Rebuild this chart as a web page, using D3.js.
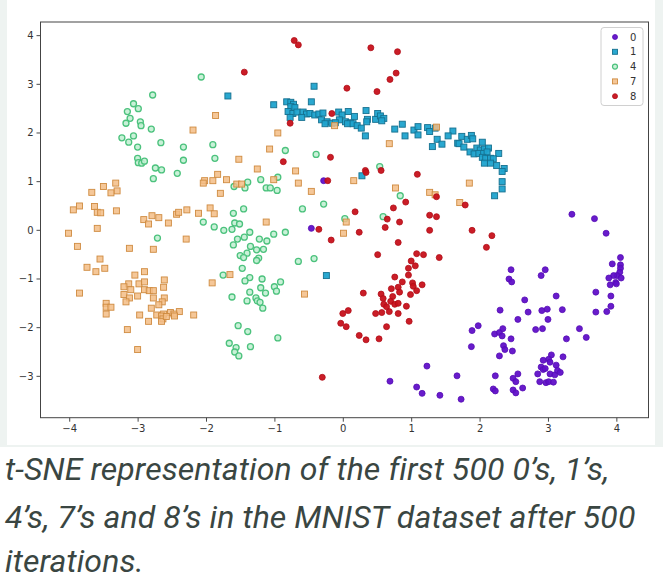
<!DOCTYPE html>
<html>
<head>
<meta charset="utf-8">
<script src="https://cdnjs.cloudflare.com/ajax/libs/d3/7.8.5/d3.min.js"></script>
<style>
  html, body { margin: 0; padding: 0; background: #ffffff; }
  svg { display: block; }
</style>
</head>
<body>
<svg id="chart" width="663" height="582"></svg>
<script>
// ---- data (t-SNE coordinates) ----
const classLabels = ["0", "1", "4", "7", "8"];
const xTicks = [-4, -3, -2, -1, 0, 1, 2, 3, 4];
const yTicks = [-3, -2, -1, 0, 1, 2, 3, 4];
const captionLines = [
  "t-SNE representation of the first 500 0’s, 1’s,",
  "4’s, 7’s and 8’s in the MNIST dataset after 500",
  "iterations."
];

const points0 = [
  [-0.28,1.01],[-0.46,0.03],[1.23,-2.80],[0.69,-3.11],[1.08,-3.23],[1.16,-3.36],[1.42,-3.40],
  [3.35,0.32],[3.68,0.23],[3.85,-0.07],[4.06,-0.57],[3.94,-0.70],[4.06,-0.72],[4.06,-0.79],
  [4.05,-0.87],[4.01,-0.94],[3.96,-0.94],[3.89,-0.99],[4.07,-0.99],[3.99,-1.08],[3.91,-1.13],
  [4.00,-1.11],[2.46,-0.82],[2.96,-0.82],[2.90,-0.94],[2.43,-1.01],[2.47,-1.07],[3.70,-1.28],
  [3.92,-1.36],[3.12,-1.36],[2.66,-1.44],[3.92,-1.57],[2.30,-1.65],[2.71,-1.69],[2.91,-1.66],
  [2.99,-1.63],[3.21,-1.64],[3.70,-1.69],[3.86,-1.68],[1.98,-1.97],[1.89,-2.07],[1.88,-2.40],
  [2.22,-2.14],[2.29,-2.11],[2.34,-2.03],[2.33,-2.18],[2.46,-2.24],[2.35,-2.38],[2.37,-2.46],
  [2.48,-2.49],[2.29,-2.59],[2.56,-1.84],[2.82,-2.05],[2.92,-2.03],[3.00,-1.84],[3.46,-2.03],
  [3.56,-2.21],[3.27,-2.24],[3.22,-2.61],[3.05,-2.57],[3.01,-2.66],[2.93,-2.68],[3.03,-2.72],
  [3.12,-2.78],[2.90,-2.82],[2.93,-2.87],[2.96,-2.85],[2.85,-2.96],[3.03,-2.96],[3.10,-2.98],
  [3.14,-2.89],[3.18,-2.93],[2.88,-3.12],[2.97,-3.14],[3.01,-3.12],[3.08,-3.13],[2.23,-3.00],
  [2.56,-2.96],[2.49,-3.05],[2.53,-3.12],[2.63,-3.25],[2.20,-3.27],[2.23,-3.31],[2.49,-3.29],
  [2.53,-3.35],[1.67,-3.00],[1.73,-3.48]
];

const points1 = [
  [-1.68,2.75],[-0.42,2.95],[-1.01,2.57],[-0.46,2.63],[-0.82,2.63],[-0.76,2.62],[-0.72,2.58],
  [-0.76,2.53],[-0.70,2.51],[-0.80,2.43],[-0.73,2.39],[-0.67,2.42],[-0.58,2.42],[-0.53,2.38],
  [-0.48,2.39],[-0.41,2.36],[-0.35,2.38],[-0.29,2.40],[-0.06,2.42],[-0.01,2.36],[0.08,2.43],
  [0.17,2.33],[0.34,2.45],[0.36,2.27],[0.48,2.27],[0.51,2.39],[0.55,2.34],[0.60,2.29],
  [-0.77,2.31],[-0.60,2.31],[-0.31,2.26],[-0.23,2.22],[-0.16,2.19],[-0.05,2.26],[0.04,2.22],
  [0.11,2.20],[0.87,2.17],[-0.26,2.18],[-0.11,2.20],[0.07,2.18],[0.15,2.18],[0.21,2.14],
  [0.27,2.09],[0.35,2.22],[0.57,2.24],[0.33,1.93],[0.76,2.07],[0.91,1.93],[1.04,2.05],
  [1.10,2.12],[1.10,1.95],[1.24,2.10],[1.27,2.02],[1.35,2.09],[1.38,1.86],[1.31,1.71],
  [0.28,1.11],[-0.24,-0.94],[1.61,2.03],[1.54,1.93],[1.45,1.76],[1.74,1.92],[1.82,1.86],
  [1.88,1.94],[1.90,1.87],[1.68,1.78],[1.70,1.77],[1.77,1.70],[2.04,1.80],[1.96,1.68],
  [2.01,1.64],[2.07,1.66],[2.13,1.68],[1.86,1.60],[1.92,1.56],[1.99,1.57],[2.06,1.57],
  [2.11,1.60],[2.28,1.57],[2.04,1.49],[2.09,1.47],[2.16,1.47],[2.20,1.46],[2.07,1.37],
  [2.16,1.37],[2.25,1.32],[2.36,1.26],[2.33,1.20],[2.33,0.99],[2.33,0.84],[2.22,0.70]
];

const points4 = [
  [-2.07,3.14],[-2.78,2.77],[-3.06,2.59],[-2.99,2.49],[-3.15,2.43],[-3.11,2.29],[-2.96,2.22],
  [-3.17,2.19],[-2.95,2.14],[-2.80,2.07],[-3.23,1.89],[-3.06,1.93],[-3.13,1.80],[-2.66,1.79],
  [-3.00,1.70],[-2.33,1.70],[-1.90,1.75],[-1.87,1.47],[-3.00,1.47],[-2.99,1.38],[-2.94,1.37],
  [-2.90,1.41],[-2.33,1.43],[-2.74,1.27],[-2.65,1.23],[-2.42,1.16],[-2.77,1.05],[-1.59,0.89],
  [-1.60,0.34],[-2.04,0.16],[-1.88,0.06],[-1.74,-0.01],[-1.62,0.01],[-1.58,0.14],[-1.51,0.12],
  [-2.71,-0.17],[-1.54,-0.19],[-1.60,-0.31],[-1.75,-0.93],[-1.62,-1.38],[-1.53,-1.97],
  [-1.66,-2.33],[-1.56,-2.42],[-1.58,-2.51],[-1.52,-2.59],[-0.84,1.63],[-0.39,1.55],[0.54,1.30],
  [-1.39,0.98],[-1.20,1.03],[-0.95,1.08],[-1.43,0.86],[-1.12,0.86],[-1.06,0.86],[-0.96,0.81],
  [0.84,0.70],[-1.45,0.43],[-0.59,0.43],[-0.28,0.53],[0.03,0.23],[0.59,0.27],[-1.36,-0.05],
  [-0.84,-0.05],[-1.01,-0.09],[-1.44,-0.15],[-1.22,-0.19],[-1.11,-0.23],[-1.35,-0.34],
  [-1.26,-0.41],[-1.16,-0.40],[-1.50,-0.53],[-1.40,-0.48],[-1.45,-0.57],[-1.23,-0.58],
  [-1.26,-0.63],[-0.65,-0.65],[-0.42,-0.59],[-1.47,-0.79],[-1.36,-0.98],[-1.18,-1.01],
  [-1.43,-1.05],[-0.91,-1.07],[-1.20,-1.19],[-1.00,-1.17],[-0.97,-1.26],[-1.36,-1.28],
  [-1.13,-1.30],[-1.27,-1.40],[-1.25,-1.46],[-1.40,-1.46],[-1.21,-1.49],[-1.17,-1.61],
  [-1.39,-2.09],[-0.95,-2.22],[-1.35,-2.40]
];

const points7 = [
  [-1.86,2.35],[-2.19,2.05],[-1.52,1.45],[-1.83,1.14],[-1.70,1.03],[-1.90,1.01],[-2.02,1.01],
  [-2.04,0.96],[-1.55,0.94],[-3.32,0.96],[-3.50,0.89],[-3.67,0.77],[-3.30,0.80],[-3.39,0.76],
  [-1.79,0.75],[-3.85,0.49],[-3.94,0.41],[-3.63,0.48],[-3.59,0.36],[-3.54,0.35],[-3.31,0.39],
  [-2.79,0.29],[-2.69,0.25],[-2.43,0.32],[-2.40,0.36],[-2.28,0.41],[-2.11,0.34],[-1.94,0.45],
  [-1.88,0.33],[-2.91,0.21],[-2.84,0.12],[-2.55,0.14],[-4.01,-0.07],[-3.59,0.03],[-2.29,-0.19],
  [-3.88,-0.34],[-3.12,-0.38],[-2.77,-0.40],[-3.55,-0.60],[-3.74,-0.77],[-3.48,-0.79],
  [-3.61,-0.86],[-2.90,-0.86],[-3.04,-0.93],[-1.65,-0.92],[-2.61,-1.03],[-2.98,-1.11],
  [-2.90,-1.07],[-3.13,-1.11],[-3.20,-1.17],[-1.91,-1.09],[-2.62,-1.18],[-3.10,-1.23],
  [-2.90,-1.23],[-2.83,-1.25],[-2.77,-1.25],[-3.20,-1.33],[-3.00,-1.36],[-2.77,-1.40],
  [-3.12,-1.40],[-2.61,-1.40],[-3.85,-1.30],[-3.46,-1.51],[-3.17,-1.48],[-2.64,-1.48],
  [-2.69,-1.54],[-2.80,-1.61],[-3.46,-1.59],[-3.39,-1.59],[-2.39,-1.68],[-2.52,-1.70],
  [-3.46,-1.73],[-2.97,-1.75],[-2.47,-1.73],[-2.18,-1.75],[-2.62,-1.73],[-2.72,-1.75],
  [-2.84,-1.88],[-2.65,-1.77],[-2.63,-1.83],[-2.65,-1.88],[-2.58,-1.78],[-2.46,-1.77],
  [-3.15,-2.05],[-3.00,-2.46],[-1.07,1.66],[-0.95,1.99],[0.68,1.77],[-1.25,1.25],[-0.69,1.21],
  [-1.01,1.03],[-1.48,0.94],[-0.65,0.96],[0.16,1.01],[-0.46,0.79],[0.77,0.86],[1.27,0.77],
  [1.35,0.72],[-0.12,2.14],[1.37,2.11],[1.85,0.96],[1.71,0.56],[-1.12,0.16],[0.05,0.16],
  [0.01,-0.07],[-0.56,-1.32]
];

const points8 = [
  [-0.71,3.89],[-0.65,3.80],[0.41,3.74],[0.80,3.66],[-1.44,3.24],[0.78,3.22],[0.69,3.09],
  [0.06,2.91],[0.50,2.84],[-0.16,2.39],[-0.77,2.19],[-0.18,1.49],[-0.87,1.40],[0.33,1.22],
  [0.34,1.18],[0.56,1.22],[1.09,1.14],[-0.22,1.01],[1.37,0.68],[0.92,0.57],[0.74,0.45],
  [0.18,0.37],[1.27,0.30],[1.37,0.27],[0.65,0.22],[0.83,0.16],[-0.35,0.01],[0.24,-0.05],
  [0.62,0.05],[1.27,-0.01],[1.89,-0.01],[2.18,-0.12],[2.10,-0.36],[1.79,0.51],[-0.17,-0.21],
  [0.81,-0.26],[0.51,-0.51],[1.08,-0.49],[1.18,-0.51],[1.41,-0.57],[1.00,-0.64],[1.06,-0.74],
  [0.96,-0.79],[0.96,-0.93],[0.76,-0.97],[0.87,-1.07],[1.02,-1.09],[1.16,-1.13],[0.71,-1.21],
  [0.81,-1.18],[0.83,-1.28],[1.03,-1.16],[1.08,-1.25],[0.99,-1.33],[0.30,-1.30],[0.56,-1.32],
  [0.59,-1.41],[0.73,-1.37],[0.60,-1.53],[0.70,-1.47],[0.76,-1.53],[0.81,-1.51],[0.64,-1.58],
  [0.93,-1.57],[0.08,-1.66],[0.00,-1.72],[0.48,-1.72],[0.57,-1.70],[0.68,-1.68],[0.81,-1.72],
  [-0.03,-1.92],[0.05,-1.99],[0.64,-1.99],[0.97,-1.88],[0.24,-2.17],[0.34,-2.26],[0.53,-2.24],
  [-0.30,-3.03]
];

const seriesData = [points0, points1, points4, points7, points8];

// ---- styles ----
const styles = [
  { shape: "circle", fill: "#6010c8", stroke: "#560bb5", fo: 0.95 },
  { shape: "square", fill: "#1fa3cd", stroke: "#15708f", fo: 0.95 },
  { shape: "circle", fill: "#c3f0d4", stroke: "#4cc27d", fo: 0.9 },
  { shape: "square", fill: "#f3bd86", stroke: "#cf8b40", fo: 0.85 },
  { shape: "circle", fill: "#c7111b", stroke: "#b10d17", fo: 0.95 }
];

const svg = d3.select("#chart");
const W = 663, H = 582;

// page background framing
svg.append("rect").attr("x", 0).attr("y", 0).attr("width", W).attr("height", 447).attr("fill", "#eef3f1");
svg.append("rect").attr("x", 7).attr("y", 0).attr("width", 648).attr("height", 445).attr("fill", "#ffffff");

const plot = { left: 40.5, right: 648.5, top: 22, bottom: 417.7 };

const x = d3.scaleLinear().domain([-4.42, 4.47]).range([plot.left, plot.right]);
const y = d3.scaleLinear().domain([-3.86, 4.27]).range([plot.bottom, plot.top]);

const g = svg.append("g");

// points
const msize = 6;
seriesData.forEach((pts, i) => {
  const st = styles[i];
  const grp = g.append("g");
  if (st.shape === "circle") {
    grp.selectAll("circle").data(pts).enter().append("circle")
      .attr("cx", d => x(d[0])).attr("cy", d => y(d[1]))
      .attr("r", msize / 2)
      .attr("fill", st.fill).attr("fill-opacity", st.fo)
      .attr("stroke", st.stroke).attr("stroke-width", i === 2 ? 1.3 : 0.8);
  } else {
    grp.selectAll("rect").data(pts).enter().append("rect")
      .attr("x", d => x(d[0]) - msize / 2).attr("y", d => y(d[1]) - msize / 2)
      .attr("width", msize).attr("height", msize)
      .attr("fill", st.fill).attr("fill-opacity", st.fo)
      .attr("stroke", st.stroke).attr("stroke-width", 0.9);
  }
});

// axes
const fmt = d3.format("d");
const xAxis = d3.axisBottom(x).tickValues(xTicks).tickSizeInner(4).tickSizeOuter(0).tickPadding(3).tickFormat(fmt);
const yAxis = d3.axisLeft(y).tickValues(yTicks).tickSizeInner(4).tickSizeOuter(0).tickPadding(3).tickFormat(fmt);

const gx = svg.append("g").attr("transform", `translate(0,${plot.bottom})`).call(xAxis);
const gy = svg.append("g").attr("transform", `translate(${plot.left},0)`).call(yAxis);
[gx, gy].forEach(a => {
  a.select(".domain").remove();
  a.selectAll("line").attr("stroke", "#333").attr("stroke-width", 0.9);
  a.selectAll("text").attr("fill", "#333").style("font-family", "'DejaVu Sans', sans-serif").style("font-size", "10px");
});

// spines
svg.append("rect")
  .attr("x", plot.left).attr("y", plot.top)
  .attr("width", plot.right - plot.left).attr("height", plot.bottom - plot.top)
  .attr("fill", "none").attr("stroke", "#444").attr("stroke-width", 1);

// legend
const lg = svg.append("g");
const lx = 601, ly = 27.5, lw = 42, lh = 78;
lg.append("rect").attr("x", lx).attr("y", ly).attr("width", lw).attr("height", lh)
  .attr("rx", 3).attr("fill", "#fff").attr("fill-opacity", 0.85).attr("stroke", "#d0d0d0").attr("stroke-width", 1);
classLabels.forEach((lab, i) => {
  const cy = ly + 9.5 + i * 14.8;
  const st = styles[i];
  const cxm = lx + 14;
  if (st.shape === "circle") {
    lg.append("circle").attr("cx", cxm).attr("cy", cy).attr("r", msize / 2 - 0.5)
      .attr("fill", st.fill).attr("fill-opacity", st.fo).attr("stroke", st.stroke).attr("stroke-width", i === 2 ? 1.2 : 0.8);
  } else {
    lg.append("rect").attr("x", cxm - (msize - 1) / 2).attr("y", cy - (msize - 1) / 2)
      .attr("width", msize - 1).attr("height", msize - 1)
      .attr("fill", st.fill).attr("fill-opacity", st.fo).attr("stroke", st.stroke).attr("stroke-width", 0.9);
  }
  lg.append("text").attr("x", lx + 29).attr("y", cy).attr("dy", "0.35em")
    .attr("fill", "#333").style("font-family", "'DejaVu Sans', sans-serif").style("font-size", "10px")
    .text(lab);
});

// caption
const capBase = [480, 528, 572];
captionLines.forEach((t, i) => {
  svg.append("text").attr("x", 5).attr("y", capBase[i])
    .attr("fill", "#3a4642")
    .style("font-family", "Roboto, 'Noto Sans', sans-serif")
    .style("font-style", "italic")
    .style("font-size", "32px")
    .style("letter-spacing", "0.1px")
    .text(t);
});
</script>
</body>
</html>
